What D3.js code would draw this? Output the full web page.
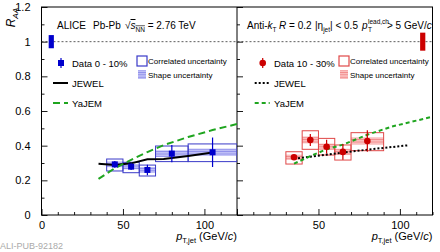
<!DOCTYPE html>
<html>
<head>
<meta charset="utf-8">
<script src="https://cdn.jsdelivr.net/npm/d3@7"></script>
<style>
body { margin: 0; background: #fff; }
text { font-family: "Liberation Sans", Arial, sans-serif; white-space: pre; }
</style>
</head>
<body>
<svg width="440" height="252"></svg>
<script>
// ---- data ----
const binLo = [40, 50, 60, 70, 90];
const binHi = [50, 60, 70, 90, 120];
const ptX0 = [45, 55, 65, 80, 105];
const rAA0 = [0.292, 0.279, 0.26, 0.354, 0.362];
const stat0 = [0.02, 0.02, 0.03, 0.05, 0.085];
const corrLo0 = [0.254, 0.244, 0.225, 0.308, 0.308];
const corrHi0 = [0.323, 0.304, 0.288, 0.398, 0.41];
const shape0 = [0.016, 0.015, 0.017, 0.019, 0.021];

const binLo1 = [30, 40, 50, 60, 70];
const binHi1 = [40, 50, 60, 70, 90];
const ptX1 = [35, 45, 55, 65, 80];
const rAA1 = [0.333, 0.433, 0.394, 0.364, 0.427];
const stat1 = [0.015, 0.035, 0.04, 0.045, 0.062];
const corrLo1 = [0.294, 0.379, 0.346, 0.317, 0.371];
const corrHi1 = [0.365, 0.486, 0.442, 0.404, 0.475];
const shape1 = [0.015, 0.02, 0.018, 0.018, 0.02];

const jewelX0 = [35, 45, 55, 65, 75, 90, 105];
const jewelY0 = [0.295, 0.288, 0.298, 0.322, 0.323, 0.34, 0.36];
const yajemX0 = [35, 45, 55, 65, 75, 90, 105, 120];
const yajemY0 = [0.208, 0.27, 0.318, 0.363, 0.403, 0.45, 0.49, 0.525];

const jewelX1 = [35, 55, 80, 105];
const jewelY1 = [0.325, 0.348, 0.377, 0.402];
const yajemX1 = [35, 45, 55, 65, 80, 95, 120];
const yajemY1 = [0.296, 0.34, 0.379, 0.406, 0.463, 0.51, 0.567];

const normUnc = [0.038, 0.052];
const normX = [6, 114];

const yTicks = [0, 0.2, 0.4, 0.6, 0.8, 1, 1.2];
const xTicks = [0, 50, 100];

const svg = d3.select("svg");
const yTop = 7, yBottom = 215;
const blue = "#0000cc", blueBox = "#3a3ac8", red = "#cc0000", redBox = "#e04848", green = "#1fa51f";

const y = d3.scaleLinear().domain([0, 1.2]).range([yBottom, yTop]);

const panels = [
    {x0: 41.5, x1: 237, id: 0},
    {x0: 237, x1: 432.5, id: 1}
];
panels.forEach(p => p.x = d3.scaleLinear().domain([0, 120]).range([p.x0, p.x1]));

// stripe patterns for the shape uncertainty
const defs = svg.append("defs");
[["shapeBlue", "rgba(110,110,235,0.45)", "rgba(90,90,220,0.5)"],
 ["shapeRed", "rgba(245,110,110,0.45)", "rgba(230,80,80,0.5)"]].forEach(([id, fill, line]) => {
    const pat = defs.append("pattern").attr("id", id)
        .attr("patternUnits", "userSpaceOnUse").attr("width", 4).attr("height", 2.4);
    pat.append("rect").attr("width", 4).attr("height", 2.4).attr("fill", fill);
    pat.append("rect").attr("width", 4).attr("height", 0.8).attr("fill", line);
});
panels.forEach(p => {
    defs.append("clipPath").attr("id", "clip" + p.id)
        .append("rect").attr("x", p.x0).attr("y", yTop).attr("width", p.x1 - p.x0).attr("height", yBottom - yTop);
});

// axes: ticks pointing inward
panels.forEach(p => {
    const g = svg.append("g");
    // x ticks
    g.append("g").attr("transform", `translate(0,${yBottom})`)
        .call(d3.axisBottom(p.x).tickValues(d3.range(0, 121, 10).filter(v => v % 50 != 0)).tickSize(-3).tickFormat(""))
        .call(a => a.select(".domain").remove());
    g.append("g").attr("transform", `translate(0,${yBottom})`)
        .call(d3.axisBottom(p.x).tickValues(xTicks).tickSize(-6).tickPadding(6.5)
            .tickFormat(d => (p.id == 1 && d == 0) ? "" : d))
        .call(a => a.select(".domain").remove())
        .call(a => a.selectAll("text").attr("font-size", 11).attr("font-family", "Liberation Sans, Arial, sans-serif").attr("fill", "#000"));
    // y ticks on the left edge of each panel
    g.append("g").attr("transform", `translate(${p.x0},0)`)
        .call(d3.axisLeft(y).tickValues(d3.range(0.1, 1.2, 0.2)).tickSize(-3).tickFormat(""))
        .call(a => a.select(".domain").remove());
    g.append("g").attr("transform", `translate(${p.x0},0)`)
        .call(d3.axisLeft(y).tickValues(yTicks).tickSize(-6).tickPadding(p.id == 0 ? 11 : 0)
            .tickFormat(d => p.id == 0 ? String(+d.toFixed(1)) : ""))
        .call(a => a.select(".domain").remove())
        .call(a => a.selectAll("text").attr("font-size", 11).attr("font-family", "Liberation Sans, Arial, sans-serif").attr("fill", "#000"));
    g.selectAll("line").attr("stroke", "#000").attr("stroke-width", 0.9);

    // x title
    const t = svg.append("text").attr("x", p.x1).attr("y", 240).attr("text-anchor", "end").attr("font-size", 11);
    t.append("tspan").attr("font-style", "italic").text("p");
    t.append("tspan").attr("font-size", 7.5).attr("dy", 3).text("T,jet");
    t.append("tspan").attr("dy", -3).text(" (GeV/");
    t.append("tspan").attr("font-style", "italic").text("c");
    t.append("tspan").text(")");
});

// frame
svg.append("rect").attr("x", 41.5).attr("y", yTop).attr("width", 432.5 - 41.5).attr("height", yBottom - yTop)
    .attr("fill", "none").attr("stroke", "#000").attr("stroke-width", 1);
svg.append("line").attr("x1", 237).attr("x2", 237).attr("y1", yTop).attr("y2", yBottom)
    .attr("stroke", "#000").attr("stroke-width", 1);

// R_AA = 1 reference line
svg.append("line").attr("x1", 41.5).attr("x2", 432.5).attr("y1", y(1)).attr("y2", y(1))
    .attr("stroke", "#333").attr("stroke-width", 0.8).attr("stroke-dasharray", "2,2");

// y title
const yt = svg.append("text").attr("transform", `translate(15,${yTop + 1}) rotate(-90)`)
    .attr("text-anchor", "end").attr("font-size", 12);
yt.append("tspan").attr("font-style", "italic").text("R");
yt.append("tspan").attr("font-style", "italic").attr("font-size", 8).attr("dy", 3).text("AA");

const sets = [
    {p: panels[0], lo: binLo, hi: binHi, px: ptX0, v: rAA0, st: stat0, cl: corrLo0, ch: corrHi0, sh: shape0,
     col: blue, box: blueBox, pat: "shapeBlue"},
    {p: panels[1], lo: binLo1, hi: binHi1, px: ptX1, v: rAA1, st: stat1, cl: corrLo1, ch: corrHi1, sh: shape1,
     col: red, box: redBox, pat: "shapeRed"}
];

// normalisation boxes
sets.forEach((s, i) => {
    const x = s.p.x;
    svg.append("rect").attr("x", x(normX[i]) - 2.6).attr("width", 5.2)
        .attr("y", y(1 + normUnc[i])).attr("height", y(1 - normUnc[i]) - y(1 + normUnc[i]))
        .attr("fill", s.col);
});

// model curves
const line = (x) => d3.line().x(d => x(d[0])).y(d => y(d[1]));
const curves = [
    {p: panels[0], xs: jewelX0, ys: jewelY0, col: "#000", dash: null},
    {p: panels[0], xs: yajemX0, ys: yajemY0, col: green, dash: "7,4"},
    {p: panels[1], xs: jewelX1, ys: jewelY1, col: "#000", dash: "2,2"},
    {p: panels[1], xs: yajemX1, ys: yajemY1, col: green, dash: "4,3"}
];

sets.forEach(s => {
    const x = s.p.x;
    const g = svg.append("g").attr("clip-path", `url(#clip${s.p.id})`);
    const idx = d3.range(s.v.length);
    // shape uncertainty
    g.selectAll(".shape").data(idx).join("rect")
        .attr("x", i => x(s.lo[i])).attr("width", i => x(s.hi[i]) - x(s.lo[i]))
        .attr("y", i => y(s.v[i] + s.sh[i])).attr("height", i => y(s.v[i] - s.sh[i]) - y(s.v[i] + s.sh[i]))
        .attr("fill", `url(#${s.pat})`);
    // correlated uncertainty
    g.selectAll(".corr").data(idx).join("rect")
        .attr("x", i => x(s.lo[i])).attr("width", i => x(s.hi[i]) - x(s.lo[i]))
        .attr("y", i => y(s.ch[i])).attr("height", i => y(s.cl[i]) - y(s.ch[i]))
        .attr("fill", "none").attr("stroke", s.box).attr("stroke-width", 1);
});

curves.forEach(c => {
    svg.append("path").attr("clip-path", `url(#clip${c.p.id})`)
        .datum(c.xs.map((v, i) => [v, c.ys[i]]))
        .attr("d", line(c.p.x))
        .attr("fill", "none").attr("stroke", c.col).attr("stroke-width", 2)
        .attr("stroke-dasharray", c.dash);
});

sets.forEach(s => {
    const x = s.p.x;
    const idx = d3.range(s.v.length);
    svg.append("g").selectAll("line").data(idx).join("line")
        .attr("x1", i => x(s.px[i])).attr("x2", i => x(s.px[i]))
        .attr("y1", i => y(s.v[i] - s.st[i])).attr("y2", i => y(s.v[i] + s.st[i]))
        .attr("stroke", s.col).attr("stroke-width", 1.2);
    if (s.col == blue) {
        svg.append("g").selectAll("rect").data(idx).join("rect")
            .attr("x", i => x(s.px[i]) - 3).attr("y", i => y(s.v[i]) - 3)
            .attr("width", 6).attr("height", 6).attr("fill", s.col);
    } else {
        svg.append("g").selectAll("circle").data(idx).join("circle")
            .attr("cx", i => x(s.px[i])).attr("cy", i => y(s.v[i])).attr("r", 3.3).attr("fill", s.col);
    }
});

// headers, each piece placed where it sits in the original
const hy = 29, fs = 10, sub = 6.5;
const txt = (x) => svg.append("text").attr("x", x).attr("y", hy).attr("font-size", fs);
txt(57).text("ALICE");
txt(93).text("Pb-Pb");
const sq = txt(125);
sq.append("tspan").text("√");
sq.append("tspan").attr("font-style", "italic").attr("text-decoration", "overline").text("s");
sq.append("tspan").attr("font-size", sub).attr("dy", 2.5).attr("text-decoration", "overline").text("NN");
sq.append("tspan").attr("dy", -2.5).text(" = 2.76 TeV");

const ak = txt(247);
ak.append("tspan").text("Anti-");
ak.append("tspan").attr("font-style", "italic").text("k");
ak.append("tspan").attr("font-size", sub).attr("dy", 2.5).text("T");
const rr = txt(279);
rr.append("tspan").attr("font-style", "italic").text("R");
rr.append("tspan").text(" = 0.2");
const eta = txt(315);
eta.append("tspan").text("|η");
eta.append("tspan").attr("font-size", sub).attr("dy", 2.5).text("jet");
eta.append("tspan").attr("dy", -2.5).text("| < 0.5");
txt(362).attr("font-style", "italic").text("p");
svg.append("text").attr("x", 368).attr("y", hy + 2.5).attr("font-size", sub).text("T");
svg.append("text").attr("x", 368).attr("y", hy - 5).attr("font-size", sub).text("lead,ch");
const gv = txt(387);
gv.append("tspan").text("> 5 GeV/");
gv.append("tspan").attr("font-style", "italic").text("c");

// legends
const legends = [
    {s: sets[0], mx: 61, tx: 72, label: "Data 0 - 10%", bx: 137, c: curves.slice(0, 2)},
    {s: sets[1], mx: 262.7, tx: 274, label: "Data 10 - 30%", bx: 339, c: curves.slice(2, 4)}
];
legends.forEach(L => {
    const g = svg.append("g");
    g.append("line").attr("x1", L.mx).attr("x2", L.mx).attr("y1", 58).attr("y2", 68)
        .attr("stroke", L.s.col).attr("stroke-width", 1.2);
    if (L.s.col == blue) g.append("rect").attr("x", L.mx - 3).attr("y", 60).attr("width", 6).attr("height", 6).attr("fill", blue);
    else g.append("circle").attr("cx", L.mx).attr("cy", 63).attr("r", 3.3).attr("fill", red);
    g.append("text").attr("x", L.tx).attr("y", 66.5).attr("font-size", 9.5).text(L.label);
    ["JEWEL", "YaJEM"].forEach((name, k) => {
        const yy = 83 + 20 * k;
        g.append("line").attr("x1", L.mx - 8).attr("x2", L.mx + 7).attr("y1", yy).attr("y2", yy)
            .attr("stroke", L.c[k].col).attr("stroke-width", 2).attr("stroke-dasharray", L.c[k].dash);
        g.append("text").attr("x", L.tx).attr("y", yy + 3.5).attr("font-size", 9.5).text(name);
    });
    g.append("rect").attr("x", L.bx).attr("y", 56).attr("width", 10).attr("height", 10)
        .attr("fill", "none").attr("stroke", L.s.box).attr("stroke-width", 1.2);
    g.append("rect").attr("x", L.bx + 1).attr("y", 70).attr("width", 8).attr("height", 9)
        .attr("fill", `url(#${L.s.pat})`);
    g.append("text").attr("x", L.bx + 11).attr("y", 63.5).attr("font-size", 8).text("Correlated uncertainty");
    g.append("text").attr("x", L.bx + 11).attr("y", 77.5).attr("font-size", 8).text("Shape uncertainty");
});

svg.append("text").attr("x", 0).attr("y", 249).attr("font-size", 9)
    .attr("font-family", "Liberation Mono, monospace").attr("fill", "#aaa").text("ALI-PUB-92182");
</script>
</body>
</html>
